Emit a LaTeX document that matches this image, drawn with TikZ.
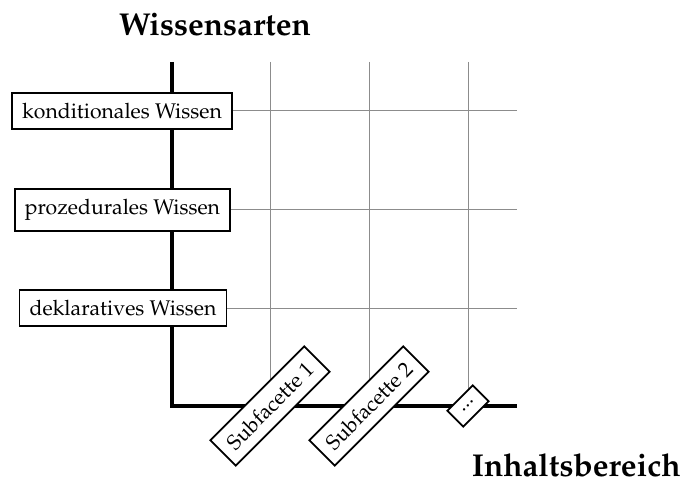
\documentclass[tikz,border=0pt]{standalone}
\usepackage[T1]{fontenc}
\usepackage{mathpazo}
\begin{document}
\begin{tikzpicture}[x=0.5pt,y=-0.5pt,
  gridline/.style={draw=black!45,line width=0.5pt},
  axisline/.style={draw=black,line width=2pt,line join=miter},
  wbox/.style={draw=black,fill=white,line width=0.9pt,inner sep=5pt,font=\fontsize{10.6}{12.5}\selectfont},
  titlefont/.style={inner sep=0pt,font=\fontsize{15.8}{19}\selectfont\bfseries}]
\useasboundingbox (0,0) rectangle (684,480);
% named coordinates
\coordinate (top) at (172,62);
\coordinate (origin) at (172,406);
\coordinate (xend) at (517,406);
\foreach \n/\x in {a/270,b/369,c/468}{
  \coordinate (g\n top) at (\x,62);
  \coordinate (g\n bot) at (\x,406);
}
\foreach \n/\y in {k/111,p/210,d/308}{
  \coordinate (h\n l) at (172,\y);
  \coordinate (h\n r) at (517,\y);
}
% grid
\foreach \n in {a,b,c}{\draw[gridline] (g\n top) -- (g\n bot);}
\foreach \n in {k,p,d}{\draw[gridline] (h\n l) -- (h\n r);}
% axes
\draw[axisline] (top) -- (origin) -- (xend);
% titles
\node[titlefont,anchor=base] (ty) at (215,35.7) {Wissensarten};
\node[titlefont,anchor=base east] (tx) at (681,476.7) {Inhaltsbereich};
% knowledge boxes
\node[wbox] (kond) at (122,111) {konditionales Wissen};
\node[wbox] (proz) at (122.5,210) {prozedurales Wissen};
\node[wbox] (dekl) at (123,308) {deklaratives Wissen};
% subfacets
\node[wbox,rotate=45] (sf1) at (gabot) {Subfacette 1};
\node[wbox,rotate=45] (sf2) at (gbbot) {Subfacette 2};
\node[wbox,rotate=45] (sf3) at (gcbot) {...};
\end{tikzpicture}
\end{document}
